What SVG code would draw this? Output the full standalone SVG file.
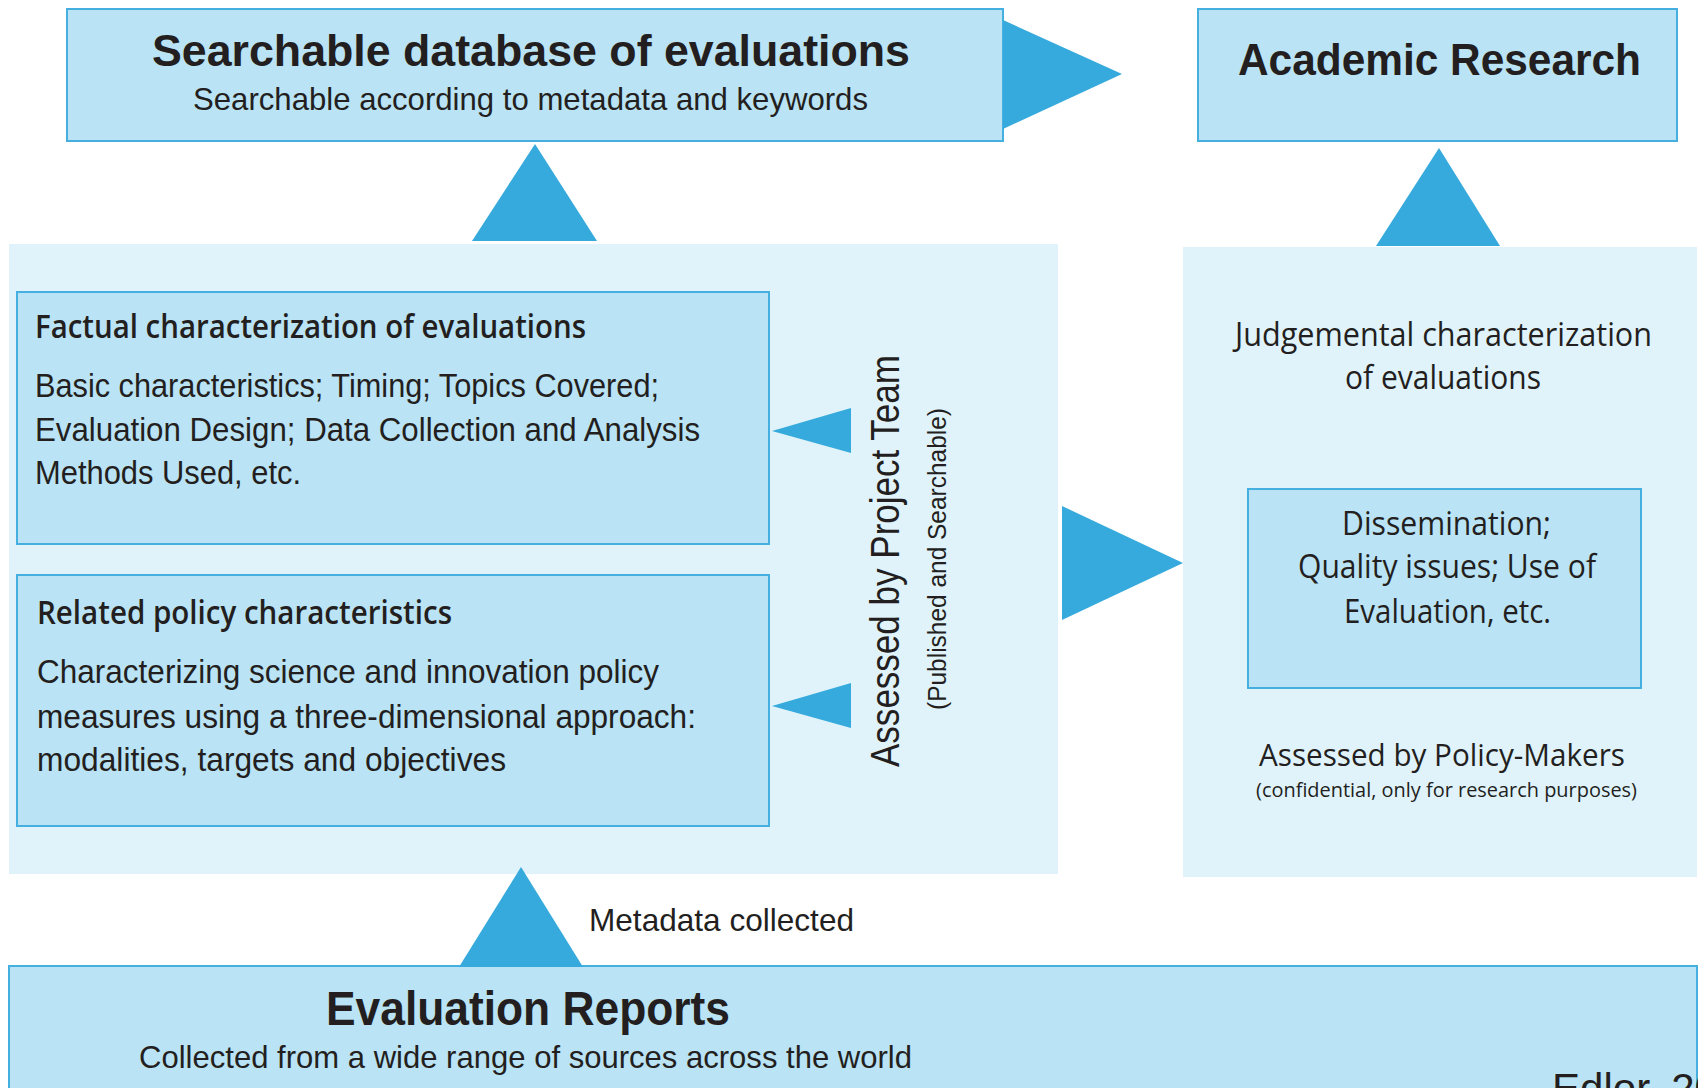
<svg xmlns="http://www.w3.org/2000/svg" width="1702" height="1088" viewBox="0 0 1702 1088">
<style>
.panel{fill:#E0F3FB;stroke:none}
.box{fill:#BAE3F5;stroke:#45B0E0;stroke-width:2}
.tri{fill:#36AADC}
text{fill:#231F20;font-family:"Liberation Sans",Arial,sans-serif}
.hb{font-weight:bold}
.cond{font-family:"Liberation Sans",Arial,sans-serif}
.semi{font-family:"Open Sans","Liberation Sans",sans-serif;font-weight:600}
.wide{font-family:"Open Sans","Liberation Sans",sans-serif}
</style>
<defs>
<clipPath id="clipR"><rect x="0" y="0" width="1698" height="1088"/></clipPath>
</defs>
<rect width="1702" height="1088" fill="#FFFFFF"/>

<g id="panel-project">
<rect class="panel" x="9" y="244" width="1049" height="630"/>
<text class="cond" transform="translate(899,561) rotate(-90)" text-anchor="middle" font-size="40" textLength="412" lengthAdjust="spacingAndGlyphs">Assessed by Project Team</text>
<text class="cond" transform="translate(946,559) rotate(-90)" text-anchor="middle" font-size="26" textLength="302" lengthAdjust="spacingAndGlyphs">(Published and Searchable)</text>
</g>

<g id="panel-policy">
<rect class="panel" x="1183" y="247" width="514" height="630"/>
<text class="wide" x="1235" y="346" font-size="33" textLength="417" lengthAdjust="spacingAndGlyphs">Judgemental characterization</text>
<text class="wide" x="1345" y="389" font-size="33" textLength="196" lengthAdjust="spacingAndGlyphs">of evaluations</text>
<text class="wide" x="1259" y="766" font-size="31" textLength="366" lengthAdjust="spacingAndGlyphs">Assessed by Policy-Makers</text>
<text class="wide" x="1256" y="797" font-size="20" textLength="381" lengthAdjust="spacingAndGlyphs">(confidential, only for research purposes)</text>
</g>

<g id="db">
<rect class="box" x="67" y="9" width="936" height="132"/>
<text class="hb" x="152" y="66" font-size="44" textLength="758" lengthAdjust="spacingAndGlyphs">Searchable database of evaluations</text>
<text x="193" y="110" font-size="32" textLength="675" lengthAdjust="spacingAndGlyphs">Searchable according to metadata and keywords</text>
</g>

<g id="academic">
<rect class="box" x="1198" y="9" width="479" height="132"/>
<text class="hb" x="1238" y="75" font-size="45" textLength="403" lengthAdjust="spacingAndGlyphs">Academic Research</text>
</g>

<g id="factual">
<rect class="box" x="17" y="292" width="752" height="252"/>
<text class="semi" x="35" y="338" font-size="32" textLength="551" lengthAdjust="spacingAndGlyphs">Factual characterization of evaluations</text>
<text x="35" y="397" font-size="33" textLength="624" lengthAdjust="spacingAndGlyphs">Basic characteristics; Timing; Topics Covered;</text>
<text x="35" y="441" font-size="33" textLength="665" lengthAdjust="spacingAndGlyphs">Evaluation Design; Data Collection and Analysis</text>
<text x="35" y="484" font-size="33" textLength="266" lengthAdjust="spacingAndGlyphs">Methods Used, etc.</text>
</g>

<g id="related">
<rect class="box" x="17" y="575" width="752" height="251"/>
<text class="semi" x="37" y="624" font-size="32" textLength="415" lengthAdjust="spacingAndGlyphs">Related policy characteristics</text>
<text x="37" y="683" font-size="33" textLength="622" lengthAdjust="spacingAndGlyphs">Characterizing science and innovation policy</text>
<text x="37" y="728" font-size="33" textLength="659" lengthAdjust="spacingAndGlyphs">measures using a three-dimensional approach:</text>
<text x="37" y="771" font-size="33" textLength="469" lengthAdjust="spacingAndGlyphs">modalities, targets and objectives</text>
</g>

<g id="dissemination">
<rect class="box" x="1248" y="489" width="393" height="199"/>
<text class="wide" x="1342" y="535" font-size="33" textLength="209" lengthAdjust="spacingAndGlyphs">Dissemination;</text>
<text class="wide" x="1298" y="578" font-size="33" textLength="298" lengthAdjust="spacingAndGlyphs">Quality issues; Use of</text>
<text class="wide" x="1344" y="623" font-size="33" textLength="207" lengthAdjust="spacingAndGlyphs">Evaluation, etc.</text>
</g>

<g id="reports">
<rect class="box" x="9" y="966" width="1688" height="140"/>
<text class="hb" x="326" y="1025" font-size="48" textLength="404" lengthAdjust="spacingAndGlyphs">Evaluation Reports</text>
<text x="139" y="1068" font-size="32" textLength="773" lengthAdjust="spacingAndGlyphs">Collected from a wide range of sources across the world</text>
</g>

<g id="connectors">
<polygon class="tri" points="1003,20 1122,74 1003,129"/>
<polygon class="tri" points="535,144 597,241 472,241"/>
<polygon class="tri" points="1439,148 1500,246 1376,246"/>
<polygon class="tri" points="772,431 851,408 851,453"/>
<polygon class="tri" points="772,706 851,683 851,728"/>
<polygon class="tri" points="1062,506 1183,563 1062,620"/>
<polygon class="tri" points="521,867 583,967 459,967"/>
<text x="589" y="931" font-size="32" textLength="265" lengthAdjust="spacingAndGlyphs">Metadata collected</text>
</g>

<g id="citation" clip-path="url(#clipR)">
<text x="1552" y="1103" font-size="42" textLength="166" lengthAdjust="spacingAndGlyphs">Edlor, 20</text>
</g>
</svg>
